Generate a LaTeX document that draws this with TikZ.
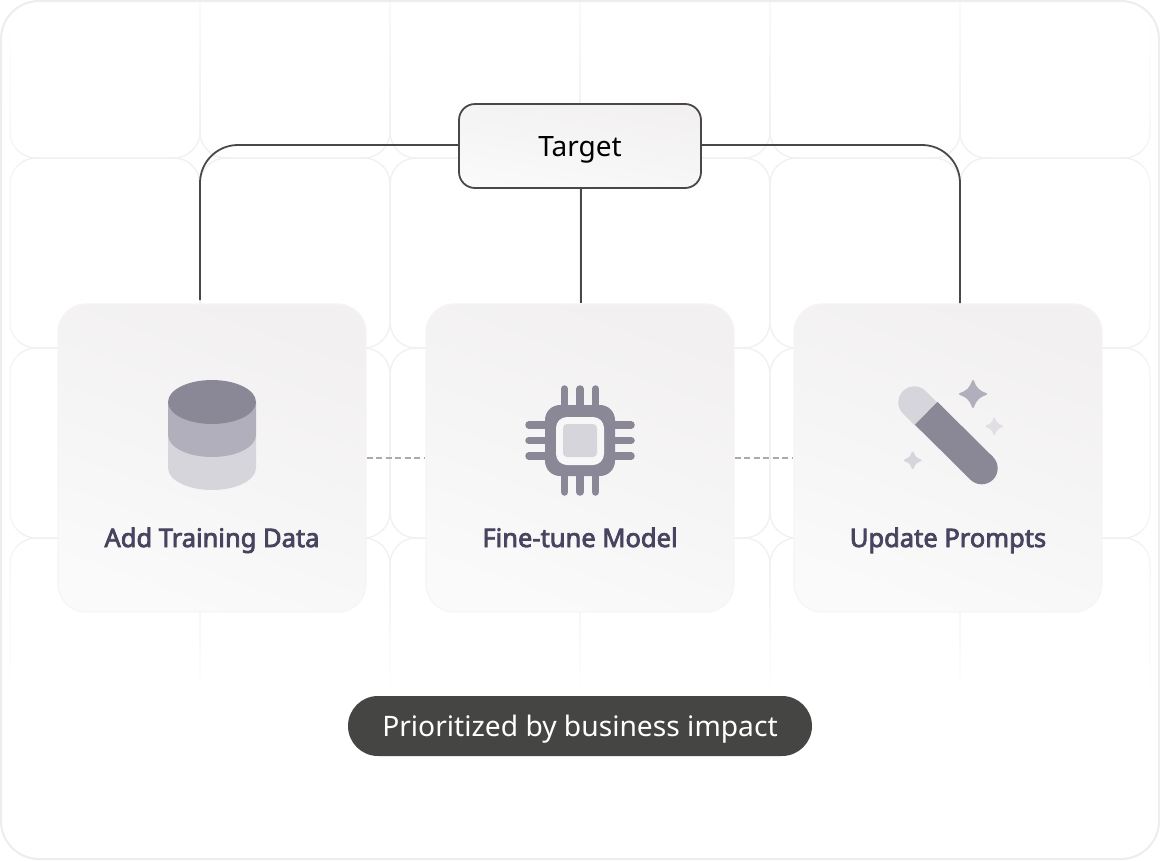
\documentclass[tikz,border=0pt]{standalone}
\usepackage{fontspec}
\setmainfont{Noto Sans}
\newfontfamily\labelfont[FakeBold=3]{Noto Sans}
\usetikzlibrary{fadings}

\definecolor{gridgray}{HTML}{F1F1F2}
\definecolor{framegray}{HTML}{EDEDEE}
\definecolor{linkgray}{HTML}{484848}
\definecolor{dashgray}{HTML}{ABABAB}
\definecolor{labelink}{HTML}{48435F}
\definecolor{pilldark}{HTML}{454543}
\definecolor{icondark}{HTML}{8A8797}
\definecolor{iconmid}{HTML}{B1AFBB}
\definecolor{iconlight}{HTML}{D6D5DB}
\definecolor{iconpale}{HTML}{E0DFE4}
\definecolor{cardtop}{HTML}{F2F0F1}
\definecolor{cardbottom}{HTML}{FAFAFA}

\tikzset{
	card/.style={draw=black!4,line width=1.2,rounded corners=28,minimum size=308,inner sep=0,
		top color=cardtop,bottom color=cardbottom,shading angle=-20},
	cardlabel/.style={text=labelink,font=\fontsize{25.5}{30}\labelfont,inner sep=0,text height=18,text depth=0},
	link/.style={draw=linkgray,line width=1.8},
	dashlink/.style={draw=dashgray,line width=1.4,dash pattern=on 6 off 3.5},
	tile/.style={draw=gridgray,line width=1.5,rounded corners=26},
	sparkle/.pic={
		\path[pic actions,fill,draw,line width=2,line join=round] (0,-1) .. controls (0.2,-0.42) and (0.42,-0.2) .. (1,0)
			.. controls (0.42,0.2) and (0.2,0.42) .. (0,1)
			.. controls (-0.2,0.42) and (-0.42,0.2) .. (-1,0)
			.. controls (-0.42,-0.2) and (-0.2,-0.42) .. (0,-1) -- cycle;
	}
}

\begin{document}
\begin{tikzpicture}[x=1pt,y=-1pt]
	\useasboundingbox (0,0) rectangle (1160,860);
	
	% grid tiles
	\begin{scope}
	\clip[rounded corners=38] (1,1) rectangle (1159,859);
	\foreach \col in {10,200,390,580,770,960}
		\foreach \row in {-32,158,348,538}
			\draw[tile] (\col,\row) rectangle ++(190,190);
	
	% fade the grid out
	\fill[white,path fading=north] (0,560) rectangle (1160,692);
	\fill[white] (0,691) rectangle (1160,860);
	\fill[white,opacity=0.6,path fading=south] (0,0) rectangle (1160,130);
	\fill[white,opacity=0.8,path fading=east] (0,0) rectangle (24,860);
	\fill[white,opacity=0.8,path fading=west] (1136,0) rectangle (1160,860);
	\fill[white,path fading=south] (0,0) rectangle (24,135);
	\fill[white,path fading=south] (1136,0) rectangle (1160,135);
	\end{scope}
	
	% outer frame
	\draw[framegray,line width=2,rounded corners=38] (1,1) rectangle (1159,859);
	
	% cards
	\node[card] (addcard) at (212,458) {};
	\node[card] (tunecard) at (580,458) {};
	\node[card] (promptcard) at (948,458) {};
	
	\node[cardlabel] (addlabel) at (212,538) {Add Training Data};
	\node[cardlabel] (tunelabel) at (580,538) {Fine-tune Model};
	\node[cardlabel] (promptlabel) at (948,538) {Update Prompts};
	
	% target
	\node[draw=linkgray,line width=1.8,rounded corners=16,minimum width=242,minimum height=84,inner sep=0,
		top color=cardtop,bottom color=cardbottom,shading angle=-10,text height=20,text depth=0,
		font=\fontsize{28}{32}\selectfont] (target) at (580,146) {Target};
	
	% connectors
	\coordinate (leftdrop) at (200,300);
	\coordinate (rightdrop) at (960,303);
	\draw[link,rounded corners=38] ([yshift=1]target.west) -| (leftdrop);
	\draw[link,rounded corners=38] ([yshift=1]target.east) -| (rightdrop);
	\draw[link] ([xshift=1]target.south) -- ([xshift=1]tunecard.north);
	\draw[dashlink] (addcard.east) -- (tunecard.west);
	\draw[dashlink] (tunecard.east) -- (promptcard.west);
	
	% database icon
	\fill[iconlight] (168,468) arc[start angle=180,end angle=360,x radius=44,y radius=-22] -- (256,435) -- (168,435) --cycle;
	\fill[iconmid] (168,435) arc[start angle=180,end angle=360,x radius=44,y radius=-22] -- (256,402) -- (168,402) --cycle;
	\fill[icondark] (212,402) ellipse[x radius=44,y radius=22];
	
	% chip icon
	\foreach \pos in {-15.5,0,15.5} {
		\draw[icondark,line width=7.5,line cap=round] (580+\pos,389) -- (580+\pos,492);
		\draw[icondark,line width=7.5,line cap=round] (529,440.5+\pos) -- (631,440.5+\pos);
	}
	\fill[icondark,rounded corners=15] (545,405) rectangle (615,476);
	\fill[black!3,rounded corners=11] (556,417) rectangle (604,465);
	\fill[iconlight,rounded corners=4] (563,424) rectangle (597,457);
	
	% wand icon
	\draw[iconlight,line width=32,line cap=round] (914.3,402.3) -- (930,418);
	\draw[icondark,line width=32] (926.2,413.3) -- (981.7,468.3);
	\fill[icondark] (981.7,468.3) circle (16);
	
	% sparkles
	\pic[iconmid,scale=13] at (973,394) {sparkle};
	\pic[iconpale,scale=7.8] at (994.3,426.3) {sparkle};
	\pic[iconlight,scale=7.8] at (912.7,460.3) {sparkle};
	
	% pill
	\node[fill=pilldark,text=white,rounded corners=30,minimum width=464,minimum height=60,inner sep=0,text height=20,text depth=0,
		font=\fontsize{28.2}{32}\selectfont] (impact) at (580,726) {Prioritized by business impact};
\end{tikzpicture}
\end{document}
